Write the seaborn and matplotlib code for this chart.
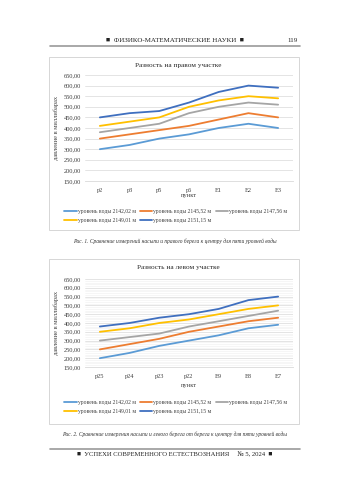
import matplotlib
matplotlib.use("Agg")
import matplotlib.pyplot as plt
from matplotlib.patches import Rectangle
from matplotlib.lines import Line2D
import seaborn as sns
import pandas as pd

# data
levels = ["уровень воды 2142,02 м", "уровень воды 2145,52 м", "уровень воды 2147,56 м",
          "уровень воды 2149,01 м", "уровень воды 2151,15 м"]
colors = ["#5B9BD5", "#ED7D31", "#A5A5A5", "#FFC000", "#3F6FBF"]

right_points = ["p2", "p3", "p5", "p6", "E1", "E2", "E3"]
right_vals = [
    [300, 320, 350, 370, 400, 420, 400],
    [350, 370, 390, 410, 440, 470, 450],
    [380, 400, 420, 470, 500, 520, 510],
    [410, 430, 450, 500, 530, 550, 540],
    [450, 470, 480, 520, 570, 600, 590],
]

left_points = ["p25", "p24", "p23", "p22", "E9", "E8", "E7"]
left_vals = [
    [200, 230, 270, 300, 330, 370, 390],
    [250, 280, 310, 350, 380, 410, 430],
    [300, 320, 340, 380, 410, 440, 470],
    [350, 370, 400, 420, 450, 480, 500],
    [380, 400, 430, 450, 480, 530, 550],
]

yticks = list(range(150, 651, 50))


def to_long(points, vals):
    rows = []
    for lvl, series in zip(levels, vals):
        for i, (p, v) in enumerate(zip(points, series)):
            rows.append({"pos": i, "point": p, "level": lvl, "value": v})
    return pd.DataFrame(rows)


sns.set_theme(style="white")
plt.rcParams["font.family"] = ["Liberation Serif", "DejaVu Serif"]

W, H = 350, 495
fig = plt.figure(figsize=(3.5, 4.95), dpi=100)


def fy(px):
    return 1 - px / H


def fx(px):
    return px / W


txt = "#404040"

# page header
fig.text(fx(175), fy(40), "■  ФИЗИКО-МАТЕМАТИЧЕСКИЕ НАУКИ  ■", ha="center", va="center",
         fontsize=5, color="#222222")
fig.text(fx(293), fy(40), "119", ha="center", va="center", fontsize=5, color="#222222")
fig.add_artist(Line2D([fx(50), fx(300)], [fy(46), fy(46)], color="#9a9a9a", lw=1.2))


def draw_chart(points, vals, top_px, bot_px, box, title, title_y, xlab_y, leg_y, minor):
    ax = fig.add_axes([fx(85), fy(bot_px), fx(293 - 85), (bot_px - top_px) / H])
    df = to_long(points, vals)
    sns.lineplot(data=df, x="pos", y="value", hue="level", palette=colors,
                 linewidth=1.3, ax=ax, legend=True)
    handles, labels = ax.get_legend_handles_labels()
    ax.get_legend().remove()
    ax.set_xlim(-0.5, len(points) - 0.5)
    ax.set_ylim(150, 650)
    ax.set_yticks(yticks)
    ax.set_yticklabels([f"{v},00" for v in yticks])
    ax.set_xticks(range(len(points)))
    ax.set_xticklabels(points)
    ax.tick_params(axis="both", length=0, labelsize=4.6, colors=txt, pad=3)
    ax.tick_params(axis="x", pad=5)
    if minor:
        ax.set_yticks(range(150, 651, 10), minor=True)
        ax.grid(True, axis="y", which="minor", color="#efefef", lw=0.4)
        ax.tick_params(axis="y", which="minor", length=0)
    ax.grid(True, axis="y", which="major", color="#d9d9d9", lw=0.5)
    ax.set_axisbelow(True)
    for s in ["left", "right", "top"]:
        ax.spines[s].set_visible(False)
    ax.spines["bottom"].set_color("#d9d9d9")
    ax.spines["bottom"].set_linewidth(0.6)
    ax.set_xlabel("")
    ax.set_ylabel("давление в миллибарах", fontsize=4.6, color=txt, labelpad=3)

    fig.add_artist(Rectangle((fx(box[0]), fy(box[3])), fx(box[2] - box[0]),
                             (box[3] - box[1]) / H, fill=False, ec="#d0d0d0", lw=0.6))
    fig.text(fx(178), fy(title_y), title, ha="center", va="center", fontsize=5.2, color="#262626")
    fig.text(fx(189), fy(xlab_y), "пункт", ha="center", va="center", fontsize=4.6, color=txt)

    order = [0, 3, 1, 4, 2]
    for h in handles:
        h.set_linewidth(1.3)
    fig.legend([handles[i] for i in order], [labels[i] for i in order],
               loc="upper left", bbox_to_anchor=(fx(64), fy(leg_y)), ncol=3,
               frameon=False, fontsize=4.1, handlelength=2.2, handletextpad=0.2,
               columnspacing=0.7, labelspacing=0.65, borderpad=0, borderaxespad=0,
               labelcolor=txt)
    return ax


draw_chart(right_points, right_vals, 75, 181, (49, 57, 299, 230),
           "Разность на правом участке", 65, 196, 209, False)
draw_chart(left_points, left_vals, 279, 367, (49, 259, 299, 424),
           "Разность на левом участке", 268, 385, 400, True)

fig.text(fx(175), fy(241),
         "Рис. 1. Сравнение измерений насыпи и правого берега к центру для пяти уровней воды",
         ha="center", va="center", fontsize=4.0, style="italic", color="#333333")
fig.text(fx(175), fy(434),
         "Рис. 2. Сравнение измерения насыпи и левого берега от берега к центру для пяти уровней воды",
         ha="center", va="center", fontsize=4.0, style="italic", color="#333333")

# page footer
fig.add_artist(Line2D([fx(50), fx(300)], [fy(449), fy(449)], color="#9a9a9a", lw=1.2))
fig.text(fx(175), fy(455), "■  УСПЕХИ СОВРЕМЕННОГО ЕСТЕСТВОЗНАНИЯ     № 5, 2024  ■",
         ha="center", va="center", fontsize=4.8, color="#222222")

fig.savefig("out.png", dpi=100, facecolor="white")
